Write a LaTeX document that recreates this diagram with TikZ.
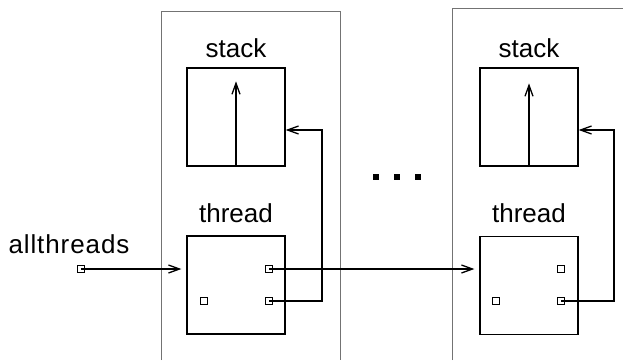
\documentclass[tikz,border=0pt]{standalone}
\usepackage{fontspec}
\setmainfont{Liberation Sans}
\usetikzlibrary{arrows.meta}
\begin{document}
\begin{tikzpicture}[x=1pt,y=-1pt,
  conn/.style={line width=1.3pt},
  arr/.style={conn,-{Straight Barb[length=11pt,width=8pt,line width=1.3pt]}},
  frame/.style={draw=black!55,line width=1pt},
  obj/.style={draw,line width=1.3pt,minimum width=98pt,minimum height=98pt,inner sep=0pt},
  sq/.style={draw,fill=white,line width=1.1pt,minimum size=7pt,inner sep=0pt},
  dot/.style={fill=black,minimum size=5.5pt,inner sep=0pt},
  lbl/.style={font=\fontsize{26}{30}\selectfont,inner sep=0pt,anchor=base}]
\useasboundingbox (0,0) rectangle (623,360);
% outer frames
\draw[frame] (161,360) -- (161,11) -- (340,11) -- (340,360);
\draw[frame] (452,360) -- (452,8) -- (623,8);
% objects
\node[obj] (st1) at (236,117) {};
\node[obj] (th1) at (236,285) {};
\node[obj] (st2) at (529,117) {};
\node[obj] (th2) at (529,285.5) {};
% labels
\node[lbl] (lst1) at (236,57) {stack};
\node[lbl] (lth1) at (236,222) {thread};
\node[lbl] (lst2) at (529,57) {stack};
\node[lbl] (lth2) at (529,222) {thread};
\node[lbl] (lall) at (69,253) {\addfontfeature{LetterSpace=3.5}allthreads};
% dots
\node[dot] (d1) at (376,177) {};
\node[dot] (d2) at (397,177) {};
\node[dot] (d3) at (418,177) {};
% corner coordinates
\coordinate (k1) at (322,130);
\coordinate (k2) at (614,130);
% inner stack arrows
\draw[arr] (st1.south) -- ([yshift=-14pt]st1.north);
\draw[arr] (st2.south) -- ([yshift=-16pt]st2.north);
% connectors (drawn before squares)
\coordinate (a0) at (81,269);
\coordinate (p1) at (269,269);
\coordinate (p2) at (269,301);
\coordinate (q2) at (561,301);
\draw[arr,shorten >=5pt] (a0) -- (a0 -| th1.west);
\draw[arr,shorten >=5pt] (p1) -- (p1 -| th2.west);
\draw[arr] (p2) -| (k1) -- (k1 -| st1.east);
\draw[arr] (q2) -| (k2) -- (k2 -| st2.east);
% small squares
\node[sq] (sa) at (a0) {};
\node[sq] (s1) at (p1) {};
\node[sq] (s2) at (p2) {};
\node[sq] (s3) at (204,301) {};
\node[sq] (t1) at (561,269) {};
\node[sq] (t2) at (q2) {};
\node[sq] (t3) at (496,301) {};
% line stubs from square centres
\draw[conn] (sa.center) -- (sa.east);
\draw[conn] (s1.center) -- (s1.east);
\draw[conn] (s2.center) -- (s2.east);
\draw[conn] (t2.center) -- (t2.east);
\end{tikzpicture}
\end{document}
